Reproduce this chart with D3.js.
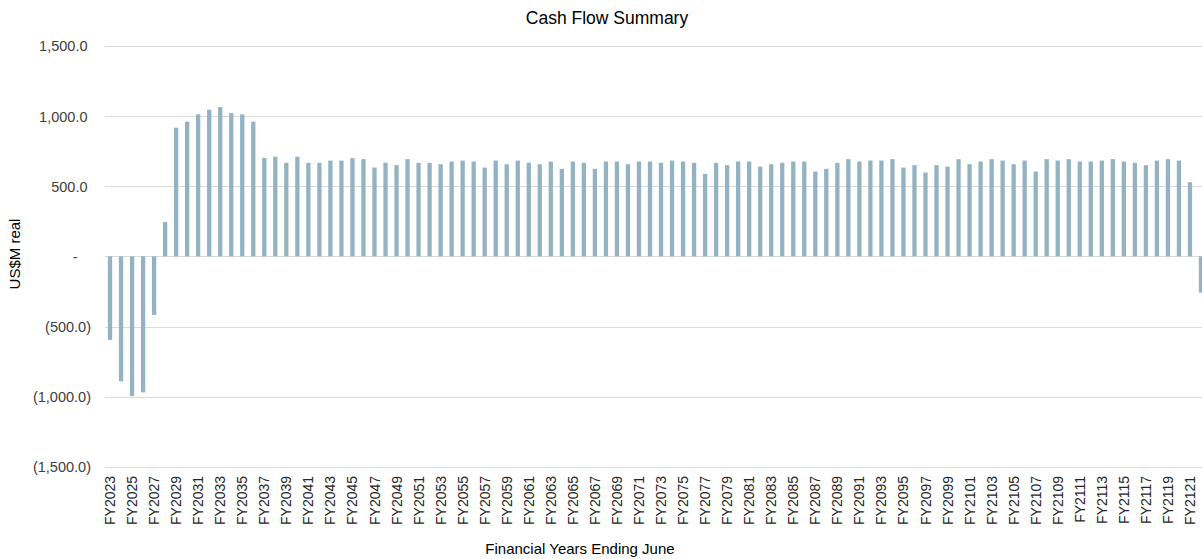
<!DOCTYPE html>
<html>
<head>
<meta charset="utf-8">
<script src="https://cdn.jsdelivr.net/npm/d3@7"></script>
<style>
  html, body { margin: 0; padding: 0; background: #fff; overflow: hidden; }
  svg { display: block; font-family: "Liberation Sans", Arial, sans-serif; }
</style>
</head>
<body>
<svg id="chart" width="1202" height="559"></svg>
<script>
// Financial years FY2023 .. FY2122
const years = d3.range(2023, 2123).map(y => "FY" + y);

// Annual cash flow, US$M real
const cashFlow = [
  -595, -890, -995, -969, -417, 245, 917, 960, 1012, 1045,
  1064, 1021, 1012, 960, 702, 710, 667, 710, 667, 667,
  683, 683, 700, 693, 633, 667, 650, 693, 667, 667,
  657, 676, 683, 676, 633, 683, 657, 683, 667, 657,
  676, 624, 676, 667, 624, 676, 676, 657, 676, 676,
  667, 683, 676, 667, 588, 667, 650, 676, 676, 640,
  657, 667, 676, 676, 605, 624, 667, 693, 676, 683,
  683, 693, 633, 650, 598, 650, 640, 693, 657, 676,
  693, 683, 657, 683, 605, 693, 683, 693, 676, 676,
  683, 693, 676, 667, 650, 683, 693, 683, 529, -258
];

// Value axis ticks
const yTicks = [-1500, -1000, -500, 0, 500, 1000, 1500];

// Every other year is labelled on the category axis
const xTickLabels = years.filter((d, i) => i % 2 === 0);

const svg = d3.select("#chart");

const x = d3.scaleBand()
  .domain(years)
  .range([104.5, 1206.5])
  .paddingInner(0.61)
  .paddingOuter(0.305);

const y = d3.scaleLinear()
  .domain([-1500, 1500])
  .range([466.9, 45.9]);

const fmt = d3.format(",.1f");
function acct(v) {
  if (v === 0) return "-";
  if (v < 0) return "(" + fmt(-v) + ")";
  return fmt(v);
}

// Gridlines + value labels
const yAxis = d3.axisLeft(y)
  .tickValues(yTicks)
  .tickSize(-(1210 - 104.5))
  .tickPadding(0)
  .tickFormat(acct);

const gy = svg.append("g")
  .attr("transform", "translate(104.5,0)")
  .call(yAxis);
gy.select(".domain").remove();
gy.selectAll(".tick line")
  .attr("stroke", "#d9d9d9")
  .attr("stroke-width", 1)
  .attr("shape-rendering", "crispEdges");
gy.selectAll(".tick text")
  .attr("fill", "#404040")
  .attr("font-size", "14.5px")
  .attr("font-family", "'Liberation Sans', Arial, sans-serif")
  .attr("x", d => d < 0 ? -13.5 : (d === 0 ? -27 : -17))
  .attr("dy", "0.35em");

// Bars
svg.append("g")
  .selectAll("rect")
  .data(cashFlow)
  .join("rect")
  .attr("x", (d, i) => x(years[i]))
  .attr("width", x.bandwidth())
  .attr("y", d => y(Math.max(0, d)))
  .attr("height", d => Math.abs(y(d) - y(0)))
  .attr("fill", "#93b3c2");

// Category labels
const xAxis = d3.axisBottom(x)
  .tickValues(xTickLabels)
  .tickSize(0)
  .tickPadding(0);

const gx = svg.append("g")
  .attr("transform", "translate(0,466.9)")
  .call(xAxis);
gx.select(".domain").remove();
gx.selectAll(".tick text")
  .attr("fill", "#262626")
  .attr("font-size", "14px")
  .attr("font-family", "'Liberation Sans', Arial, sans-serif")
  .attr("text-anchor", "end")
  .attr("transform", "rotate(-90)")
  .attr("x", -9)
  .attr("y", 0)
  .attr("dy", "0.36em");

// Title
svg.append("text")
  .attr("x", 607)
  .attr("y", 24)
  .attr("text-anchor", "middle")
  .attr("font-size", "17.5px")
  .attr("fill", "#000")
  .text("Cash Flow Summary");

// Axis titles
svg.append("text")
  .attr("transform", "translate(20,254) rotate(-90)")
  .attr("text-anchor", "middle")
  .attr("font-size", "15px")
  .attr("fill", "#000")
  .text("US$M real");

svg.append("text")
  .attr("x", 580)
  .attr("y", 554)
  .attr("text-anchor", "middle")
  .attr("font-size", "15px")
  .attr("fill", "#000")
  .text("Financial Years Ending June");
</script>
</body>
</html>
